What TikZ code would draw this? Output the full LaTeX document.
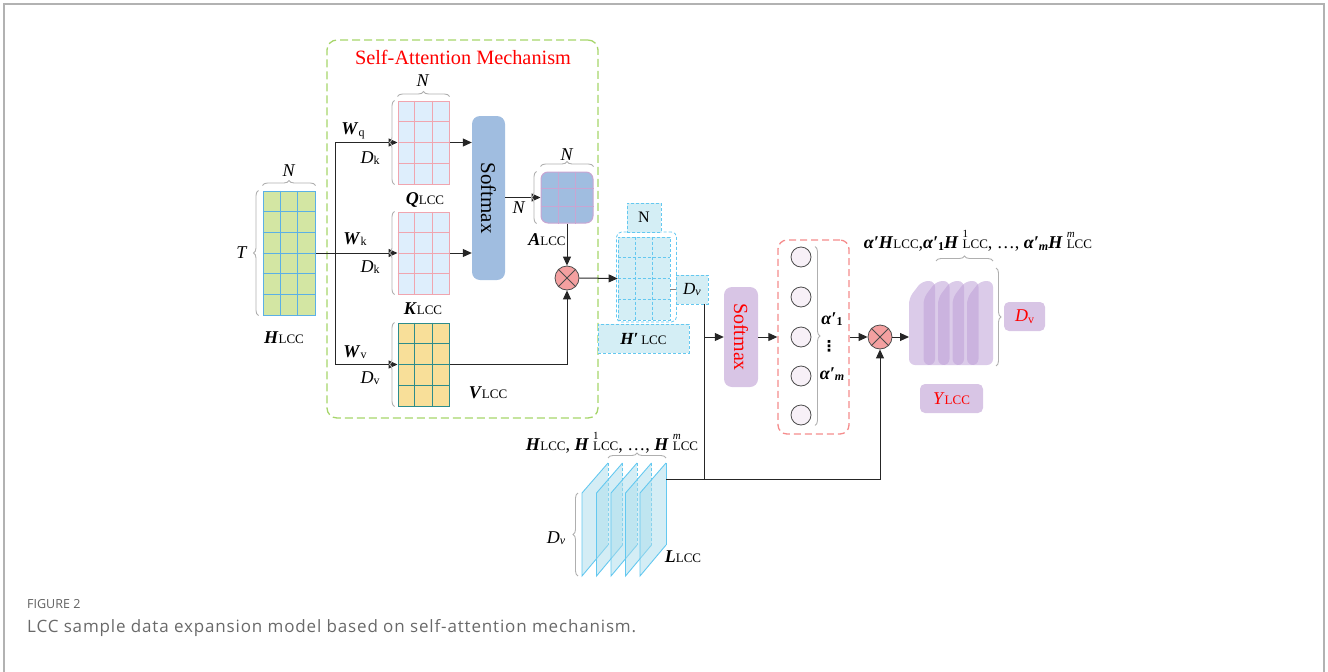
\documentclass[tikz,border=0pt]{standalone}
\usepackage{fontspec}
\setmainfont{Liberation Serif}
\newfontfamily\capfont[LetterSpace=5]{Open Sans}
\newfontfamily\capfig{Open Sans}
\newfontfamily\symfont{DejaVu Sans}
\usetikzlibrary{arrows.meta,positioning,calc,decorations.pathreplacing}

\definecolor{greencell}{RGB}{211,230,163}
\definecolor{bluegrid}{RGB}{91,176,230}
\definecolor{pinkgrid}{RGB}{240,165,175}
\definecolor{icecell}{RGB}{222,238,252}
\definecolor{yellowcell}{RGB}{248,223,153}
\definecolor{tealgrid}{RGB}{45,140,140}
\definecolor{softblue}{RGB}{160,189,224}
\definecolor{lilacgrid}{RGB}{200,165,210}
\definecolor{mulred}{RGB}{244,160,160}
\definecolor{cyancell}{RGB}{212,238,245}
\definecolor{cyanline}{RGB}{100,200,240}
\definecolor{softlilac}{RGB}{216,197,229}
\definecolor{slabfill}{RGB}{190,160,215}
\definecolor{sheetfill}{RGB}{170,220,235}
\definecolor{framegreen}{RGB}{166,213,106}
\definecolor{framered}{RGB}{245,140,140}
\definecolor{bracegray}{RGB}{175,175,175}
\definecolor{captiongray}{RGB}{105,105,105}

\newcommand{\fs}[1]{\fontsize{#1}{#1}\selectfont}
\newcommand{\bi}[1]{\textbf{\textit{#1}}}
\newcommand{\lcc}{{\fs{13}LCC}}
\newcommand{\low}[1]{\raisebox{-1.5pt}{\fs{12}#1}}
\newcommand{\hup}[1]{\bi{H}\hspace{4pt}\rlap{\raisebox{11pt}{\fs{11}#1}}\lcc}

% grid lines inside a matrix node: node, columns, rows, style
\newcommand{\matgrid}[4]{%
  \pgfmathtruncatemacro\lastcol{#2-1}%
  \pgfmathtruncatemacro\lastrow{#3-1}%
  \foreach \i in {1,...,\lastcol}
    \draw[#4] ($(#1.north west)!\i/#2!(#1.north east)$) -- ($(#1.south west)!\i/#2!(#1.south east)$);
  \foreach \j in {1,...,\lastrow}
    \draw[#4] ($(#1.north west)!\j/#3!(#1.south west)$) -- ($(#1.north east)!\j/#3!(#1.south east)$);
}

\begin{document}
\begin{tikzpicture}[
        x=1pt, y=-1pt,
        font=\fs{18},
        mat/.style={rectangle, inner sep=0pt, line width=1pt},
        box/.style={rectangle, rounded corners=5pt, inner sep=0pt, align=center},
        tag/.style={rectangle, inner sep=0pt, fill=cyancell, draw=cyanline,
                    dashed, dash pattern=on 3pt off 2pt, line width=0.8pt},
        mul/.style={circle, minimum size=24pt, inner sep=0pt, fill=mulred, draw=black!70, line width=0.8pt},
        node/.style={circle, minimum size=20pt, inner sep=0pt, fill=violet!6, draw=black!70, line width=0.8pt},
        conn/.style={line width=1pt, draw=black!85},
        arr/.style={conn, -{Triangle[length=9pt,width=8pt]}},
        brc/.style={decorate, decoration={brace, amplitude=5pt}, draw=bracegray, line width=0.9pt},
        slab/.style={fill=slabfill, fill opacity=0.55, rounded corners=6pt},
        sheet/.style={draw=cyanline, line width=0.9pt},
        lbl/.style={inner sep=0pt}
    ]
    \useasboundingbox (0,0) rectangle (1328,672);
    \draw[draw=black!30, line width=2pt] (4,672) -- (4,4) -- (1324,4) -- (1324,672);

    %--- Self-attention frame ---
    \node[rectangle, rounded corners=10pt, draw=framegreen, line width=1.3pt, dashed,
          dash pattern=on 8pt off 4pt, minimum width=271pt, minimum height=378pt] (saframe) at (462.5,229) {};
    \node[lbl, text=red, font=\fs{20.3}] (satitle) at (463,57) {Self-Attention Mechanism};

    %--- Matrices ---
    \node[mat, fill=greencell, draw=bluegrid, minimum width=52pt, minimum height=124pt] (hmat) at (289,253) {};
    \matgrid{hmat}{3}{6}{bluegrid, line width=0.9pt}
    \node[mat, fill=icecell, draw=pinkgrid, minimum width=51pt, minimum height=83pt] (qmat) at (423.5,142.5) {};
    \matgrid{qmat}{3}{4}{pinkgrid, line width=0.9pt}
    \node[mat, fill=icecell, draw=pinkgrid, minimum width=51pt, minimum height=82pt] (kmat) at (423.5,253) {};
    \matgrid{kmat}{3}{4}{pinkgrid, line width=0.9pt}
    \node[mat, fill=yellowcell, draw=tealgrid, minimum width=51pt, minimum height=83pt] (vmat) at (423.5,364.5) {};
    \matgrid{vmat}{3}{4}{tealgrid, line width=0.9pt}
    \node[mat, rounded corners=7pt, fill=softblue, draw=lilacgrid, minimum width=52pt, minimum height=51pt] (amat) at (567,197.5) {};
    \matgrid{amat}{3}{3}{lilacgrid, line width=0.9pt}

    %--- Softmax of the attention ---
    \node[box, rounded corners=8pt, fill=softblue, minimum width=33pt, minimum height=164pt] (soft1) at (488.5,198) {};
    \node[lbl, rotate=-90, font=\fs{21}] (soft1txt) at (soft1) {Softmax};
    \node[mul] (mul1) at (567,278) {};
    \draw[line width=0.8pt, black!70] (mul1.north west) -- (mul1.south east) (mul1.north east) -- (mul1.south west);

    %--- H' block ---
    \node[rectangle, rounded corners=5pt, draw=cyanline, dashed, dash pattern=on 3pt off 2pt,
          line width=0.8pt, minimum width=60pt, minimum height=90pt] (hpframe) at (646.5,277) {};
    \node[mat, fill=cyancell, draw=cyanline, dashed, dash pattern=on 3pt off 2pt, line width=0.8pt,
          minimum width=52pt, minimum height=83pt] (hpmat) at (644,278.5) {};
    \matgrid{hpmat}{3}{4}{cyanline, dashed, dash pattern=on 3pt off 2pt, line width=0.8pt}
    \node[tag, minimum width=34pt, minimum height=29pt, font=\fs{16}] (nbox) at (644,217.5) {N};
    \node[tag, minimum width=32pt, minimum height=29pt, font=\fs{17}] (dvbox) at (692,289.5) {\textit{D}\low{\itshape v}};
    \node[tag, minimum width=91pt, minimum height=29pt, font=\fs{17}] (hpbox) at (643.5,338.5) {\bi{H′}\,\lcc};

    %--- Second softmax and weights ---
    \node[box, rounded corners=8pt, fill=softlilac, minimum width=34pt, minimum height=100pt] (soft2) at (741,337) {};
    \node[lbl, rotate=-90, font=\fs{20}, text=red] (soft2txt) at (soft2) {Softmax};
    \node[rectangle, rounded corners=9pt, draw=framered, line width=1.3pt, dashed, dash pattern=on 7pt off 4pt,
          minimum width=71pt, minimum height=194pt] (attbox) at (813.5,337) {};
    \foreach \y [count=\n] in {257,297,337,376,415}
        \node[node] (c\n) at (801,\y) {};
    \node[mul] (mul2) at (880,337) {};
    \draw[line width=0.8pt, black!70] (mul2.north west) -- (mul2.south east) (mul2.north east) -- (mul2.south west);

    %--- Output stack Y ---
    \foreach \k in {0,...,4}{
        \pgfmathsetmacro\sx{909+14.5*\k}
        \path[slab] (\sx,365) -- (\sx,298) -- (\sx+13,281) -- (\sx+26,281) -- (\sx+26,365) -- cycle;
    }
    \coordinate (yin) at (909,337);
    \node[box, fill=softlilac, minimum width=41pt, minimum height=29pt, text=red] (dvy) at (1024.5,316.5) {\textit{D}\low{v}};
    \node[box, fill=softlilac, minimum width=63pt, minimum height=29pt, text=red] (ybox) at (951.5,398.5) {\textit{Y}\lcc};

    %--- Input stack L ---
    \foreach \k in {0,...,4}{
        \pgfmathsetmacro\sx{582+14.5*\k}
        \fill[sheetfill, fill opacity=0.5] (\sx,576) -- (\sx,493) -- (\sx+26,463) -- (\sx+26,545) -- cycle;
        \draw[sheet] (\sx+26,545) -- (\sx,576) -- (\sx,493) -- (\sx+26,463);
        \draw[sheet, dashed, dash pattern=on 3pt off 2pt] (\sx+26,463) -- (\sx+26,545);
    }
    \draw[sheet] (666,463) -- (666,545);
    \coordinate (lout) at (666,479);

    %--- Connectors ---
    \coordinate (split) at (335,253);
    \draw[conn] (hmat.east) -- (split);
    \draw[conn] (split |- qmat) -- (split |- vmat);
    \draw[arr] (split |- qmat) -- (qmat.west);
    \draw[arr] (split) -- (kmat.west);
    \draw[arr] (split |- vmat) -- (vmat.west);
    \draw[arr] (qmat.east) -- (qmat.east -| soft1.west);
    \draw[arr] (kmat.east) -- (kmat.east -| soft1.west);
    \draw[arr] (soft1.east |- amat.west) -- (amat.west);
    \draw[arr] (amat.south) -- (mul1.north);
    \draw[arr] (vmat.east) -| (mul1.south);
    \draw[arr] (mul1.east) -- (hpmat.west);
    \draw[conn, black!50] (hpmat.east |- dvbox.west) -- (dvbox.west);
    \coordinate (tap) at ($(dvbox.south east)+(-4,0)$);
    \draw[conn] (tap) -- (tap |- lout);
    \draw[arr] (tap |- soft2) -- (soft2.west);
    \draw[arr] (soft2.east) -- (attbox.west);
    \draw[arr] (attbox.east) -- (mul2.west);
    \draw[arr] (lout) -| (mul2.south);
    \draw[arr] (mul2.east) -- (yin);

    %--- Braces ---
    \draw[brc] ([yshift=5pt]hmat.north west) -- ([yshift=5pt]hmat.north east);
    \draw[brc] ([xshift=-4pt]hmat.south west) -- ([xshift=-4pt]hmat.north west);
    \draw[brc] ([yshift=4pt]qmat.north west) -- ([yshift=4pt]qmat.north east);
    \draw[brc] ([xshift=-3pt]qmat.south west) -- ([xshift=-3pt]qmat.north west);
    \draw[brc] ([xshift=-3pt]kmat.south west) -- ([xshift=-3pt]kmat.north west);
    \draw[brc] ([xshift=-3pt]vmat.south west) -- ([xshift=-3pt]vmat.north west);
    \draw[brc] ([yshift=5pt]amat.north west) -- ([yshift=5pt]amat.north east);
    \draw[brc] ([xshift=-4pt]amat.south west) -- ([xshift=-4pt]amat.north west);
    \draw[brc] ([xshift=14pt]c1.north) -- ([xshift=14pt]c5.south);
    \draw[brc] (936,261) -- (993,261);
    \draw[brc] (996,268) -- (996,366);
    \draw[brc] (608,458) -- (666,458);
    \draw[brc] (578,576) -- (578,493);

    %--- Labels ---
    \node[lbl] (nh) at (289,171) {\textit{N}};
    \node[lbl] (th) at (242,253) {\textit{T}};
    \node[lbl] (hlab) at (284,338) {\bi{H}\lcc};
    \node[lbl] (wq) at (353,131) {\bi{W}\low{q}};
    \node[lbl] (dk1) at (370,158) {\textit{D}\low{k}};
    \node[lbl] (wk) at (355,239) {\bi{W}\low{k}};
    \node[lbl] (dk2) at (370,267) {\textit{D}\low{k}};
    \node[lbl] (wv) at (355,352) {\bi{W}\low{v}};
    \node[lbl] (dv1) at (370,378) {\textit{D}\low{v}};
    \node[lbl] (nq) at (423,81) {\textit{N}};
    \node[lbl] (qlab) at (425,200) {\bi{Q}\lcc};
    \node[lbl] (klab) at (423,309) {\bi{K}\lcc};
    \node[lbl] (vlab) at (488,393) {\bi{V}\lcc};
    \node[lbl] (na) at (567,155) {\textit{N}};
    \node[lbl] (nal) at (519,208) {\textit{N}};
    \node[lbl] (alab) at (547,240) {\bi{A}\lcc};
    \node[lbl, font=\fs{18}] (a1) at (832,319) {\bi{α′}\low{\bfseries 1}};
    \node[lbl, font=\symfont\bfseries\fs{15}] (adots) at (829,346) {⋮};
    \node[lbl, font=\fs{18}] (am) at (832,374) {\bi{α′}\low{\bfseries\itshape m}};
    \node[lbl, font=\fs{18}] (toplab) at (978,241)
        {\bi{α′H}\lcc,\bi{α′}\low{\bfseries 1}\hup{1}, …, \bi{α′}\low{\bfseries\itshape m}\hup{\itshape m}};
    \node[lbl, font=\fs{18}] (llab) at (612,443) {\bi{H}\lcc, \hup{1}, …, \hup{\itshape m}};
    \node[lbl] (dvl) at (556,538) {\textit{D}\low{\itshape v}};
    \node[lbl] (lclab) at (683,557) {\bi{L}\lcc};

    %--- Caption ---
    \node[lbl, anchor=west, font=\capfig\fs{12.5}, text=black!62] (figno) at (27,604) {FIGURE 2};
    \node[lbl, anchor=west, font=\capfont\fs{17}, text=captiongray] (figcap) at (27,628)
        {LCC sample data expansion model based on self-attention mechanism.};
\end{tikzpicture}
\end{document}
